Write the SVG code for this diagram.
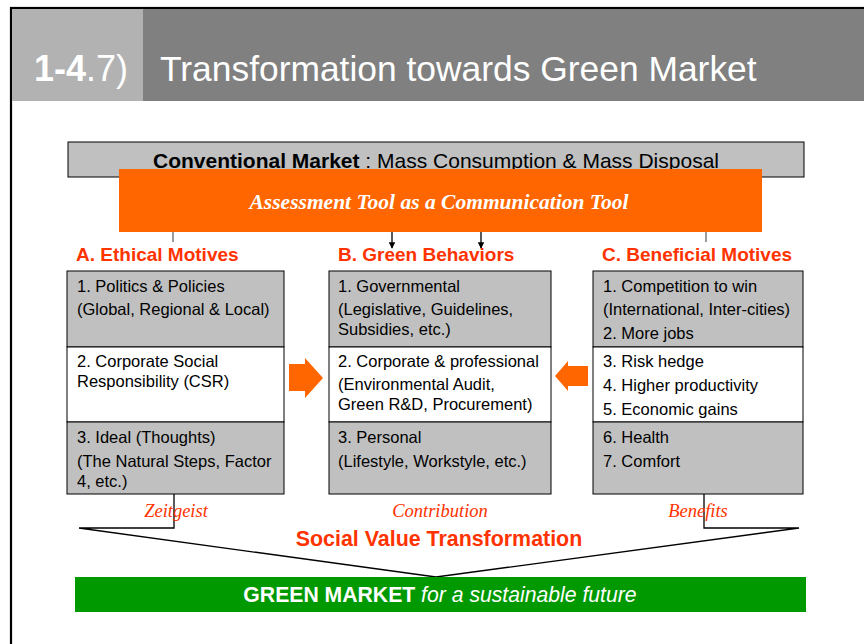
<svg xmlns="http://www.w3.org/2000/svg" width="864" height="644" viewBox="0 0 864 644">
<defs>
<style>
.s{font-family:"Liberation Sans",Arial,sans-serif}
.r{font-family:"Liberation Serif","Times New Roman",serif}
.t{font-size:16.5px;fill:#000}
.h{font-size:19px;font-weight:bold;fill:#ff3300}
.lab{font-size:18.5px;font-style:italic;fill:#ff3300;text-anchor:middle}
.box{stroke:#000;stroke-width:1}
.g{fill:#c0c0c0}
.w{fill:#fff}
.ln{stroke:#000;stroke-width:1.3;fill:none}
</style>
<marker id="ah" viewBox="0 0 10 10" refX="9" refY="5" markerWidth="5" markerHeight="5" orient="auto">
<path d="M0,0 L10,5 L0,10 z" fill="#000"/>
</marker>
</defs>
<rect width="864" height="644" fill="#fff"/>
<rect x="11" y="8" width="900" height="700" fill="none" stroke="#000" stroke-width="2.2"/>
<g id="header">
<rect x="12" y="9" width="131" height="92" fill="#b2b2b2"/>
<rect x="143" y="9" width="721" height="92" fill="#808080"/>
<text x="34" y="81" class="s" font-size="36" fill="#fff"><tspan font-weight="bold">1-4</tspan>.7)</text>
<text x="160" y="81" class="s" font-size="35.4" fill="#fff">Transformation towards Green Market</text>
</g>
<g id="conventional">
<rect x="68" y="142" width="736" height="35" class="box g"/>
<text x="436" y="168" class="s" font-size="21" text-anchor="middle"><tspan font-weight="bold">Conventional Market</tspan> : Mass Consumption &amp; Mass Disposal</text>
</g>
<g id="connectors">
<line x1="173" y1="232" x2="173" y2="242" stroke="#666" stroke-width="1.3"/>
<line x1="706" y1="232" x2="706" y2="242" stroke="#666" stroke-width="1.3"/>
<line x1="392" y1="232" x2="392" y2="248" class="ln" marker-end="url(#ah)"/>
<line x1="481" y1="232" x2="481" y2="248" class="ln" marker-end="url(#ah)"/>
<path d="M289,364 H305 V358 L323,378 L305,398 V391 H289 Z" fill="#ff6600"/>
<path d="M588,366 H568 V361 L555,376 L568,391 V386 H588 Z" fill="#ff6600"/>
<polyline points="174,494 174,528 79,528 436,577 799,528 704,528 704,494" class="ln"/>
</g>
<g id="assessment">
<rect x="119" y="169" width="643" height="63" fill="#ff6600"/>
<text x="439" y="209" class="r" font-size="21.5" font-weight="bold" font-style="italic" fill="#fff" text-anchor="middle">Assessment Tool as a Communication Tool</text>
</g>
<g id="colA">
<text x="76" y="261" class="s h">A. Ethical Motives</text>
<rect x="67" y="271" width="217" height="76" class="box g"/>
<rect x="67" y="347" width="217" height="75" class="box w"/>
<rect x="67" y="422" width="217" height="72" class="box g"/>
<text class="s t"><tspan x="77" y="292">1. Politics &amp; Policies</tspan><tspan x="77" y="315">(Global, Regional &amp; Local)</tspan><tspan x="77" y="367">2. Corporate Social</tspan><tspan x="77" y="387">Responsibility (CSR)</tspan><tspan x="77" y="443">3. Ideal (Thoughts)</tspan><tspan x="77" y="467">(The Natural Steps, Factor</tspan><tspan x="77" y="487">4, etc.)</tspan></text>
</g>
<g id="colB">
<text x="338" y="261" class="s h">B. Green Behaviors</text>
<rect x="329" y="271" width="222" height="76" class="box g"/>
<rect x="329" y="347" width="222" height="75" class="box w"/>
<rect x="329" y="422" width="222" height="72" class="box g"/>
<text class="s t"><tspan x="338" y="292">1. Governmental</tspan><tspan x="338" y="315">(Legislative, Guidelines,</tspan><tspan x="338" y="335">Subsidies, etc.)</tspan><tspan x="338" y="367">2. Corporate &amp; professional</tspan><tspan x="338" y="390">(Environmental Audit,</tspan><tspan x="338" y="410">Green R&amp;D, Procurement)</tspan><tspan x="338" y="443">3. Personal</tspan><tspan x="338" y="467">(Lifestyle, Workstyle, etc.)</tspan></text>
</g>
<g id="colC">
<text x="602" y="261" class="s h">C. Beneficial Motives</text>
<rect x="593" y="271" width="210" height="76" class="box g"/>
<rect x="593" y="347" width="210" height="75" class="box w"/>
<rect x="593" y="422" width="210" height="72" class="box g"/>
<text class="s t"><tspan x="603" y="292">1. Competition to win</tspan><tspan x="603" y="315">(International, Inter-cities)</tspan><tspan x="603" y="339">2. More jobs</tspan><tspan x="603" y="367">3. Risk hedge</tspan><tspan x="603" y="391">4. Higher productivity</tspan><tspan x="603" y="415">5. Economic gains</tspan><tspan x="603" y="443">6. Health</tspan><tspan x="603" y="467">7. Comfort</tspan></text>
</g>
<g id="labels">
<text x="176" y="517" class="r lab">Zeitgeist</text>
<text x="440" y="517" class="r lab">Contribution</text>
<text x="698" y="517" class="r lab">Benefits</text>
<text x="439" y="546" class="s" font-size="21.4" font-weight="bold" fill="#ff3300" text-anchor="middle">Social Value Transformation</text>
</g>
<g id="green">
<rect x="75" y="577" width="731" height="35" fill="#009900"/>
<text x="440" y="602" class="s" font-size="21.2" fill="#fff" text-anchor="middle"><tspan font-weight="bold">GREEN MARKET</tspan> <tspan font-style="italic">for a sustainable future</tspan></text>
</g>
</svg>
